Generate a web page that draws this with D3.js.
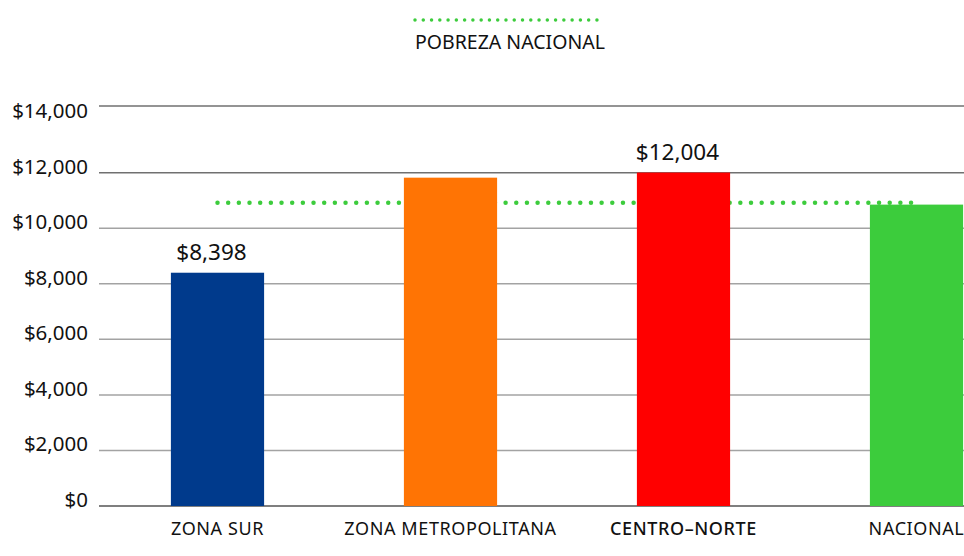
<!DOCTYPE html>
<html>
  <head>
    <meta charset="UTF-8" />
    <script src="https://d3js.org/d3.v7.min.js"></script>
    <style>
      body { margin: 0; background: #fff; }
      text { font-family: "Noto Sans", "DejaVu Sans", sans-serif; fill: #111; }
    </style>
  </head>
  <body>
    <div id="chart"></div>

    <script>
      // data
      var categories = ["ZONA SUR", "ZONA METROPOLITANA", "CENTRO–NORTE", "NACIONAL"];
      var values = [8398, 11820, 12004, 10850];
      var valueLabels = ["$8,398", "", "$12,004", ""];
      var barColors = ["#003a8c", "#ff7404", "#ff0000", "#3ccc3c"];
      var yTicks = [0, 2000, 4000, 6000, 8000, 10000, 12000, 14000];
      var povertyLine = 10920;
      var legendLabel = "POBREZA NACIONAL";

      var width = 964,
        height = 556;

      var svg = d3
        .select("#chart")
        .append("svg")
        .attr("width", width)
        .attr("height", height);

      var x = d3
        .scaleBand()
        .domain(categories)
        .range([101, 1033])
        .paddingInner(0.6)
        .paddingOuter(0.3);

      var y = d3.scaleLinear().domain([0, 14400]).range([506, 106]);

      var fmt = function (d) {
        return "$" + d3.format(",")(d);
      };

      // gridlines (top frame line sits at the top of the range)
      var gridVals = yTicks.filter(function (d) { return d < 14000; });
      svg
        .append("g")
        .selectAll("line")
        .data(gridVals)
        .enter()
        .append("line")
        .attr("x1", 99)
        .attr("x2", width)
        .attr("y1", function (d) { return y(d); })
        .attr("y2", function (d) { return y(d); })
        .attr("stroke", function (d) {
          return d === 0 ? "#555" : d >= 12000 ? "#707070" : "#a3a3a3";
        })
        .attr("stroke-width", 1.5);

      svg
        .append("line")
        .attr("x1", 99)
        .attr("x2", width)
        .attr("y1", y.range()[1])
        .attr("y2", y.range()[1])
        .attr("stroke", "#707070")
        .attr("stroke-width", 1.5);

      // y labels
      svg
        .append("g")
        .selectAll("text")
        .data(yTicks)
        .enter()
        .append("text")
        .attr("x", 88)
        .attr("y", function (d) { return y(d) + 1; })
        .attr("text-anchor", "end")
        .style("font-size", "20.5px")
        .text(fmt);

      // poverty line (behind bars)
      svg
        .append("line")
        .attr("x1", x(categories[0]) + x.bandwidth() / 2)
        .attr("x2", x(categories[categories.length - 1]) + x.bandwidth() / 2)
        .attr("y1", y(povertyLine))
        .attr("y2", y(povertyLine))
        .attr("stroke", "#3dcc3d")
        .attr("stroke-width", 4.5)
        .attr("stroke-linecap", "round")
        .attr("stroke-dasharray", "0 10.67");

      // bars
      svg
        .append("g")
        .selectAll("rect")
        .data(values)
        .enter()
        .append("rect")
        .attr("x", function (d, i) { return x(categories[i]); })
        .attr("width", x.bandwidth())
        .attr("y", function (d) { return y(d); })
        .attr("height", function (d) { return y(0) - y(d); })
        .attr("fill", function (d, i) { return barColors[i]; });

      // value labels
      svg
        .append("g")
        .selectAll("text")
        .data(values)
        .enter()
        .append("text")
        .attr("x", function (d, i) { return x(categories[i]) + x.bandwidth() / 2; })
        .attr("y", function (d) { return y(d) - 13; })
        .attr("dx", -6)
        .attr("text-anchor", "middle")
        .style("font-size", "22.5px")
        .text(function (d, i) { return valueLabels[i]; });

      // category labels
      svg
        .append("g")
        .selectAll("text")
        .data(categories)
        .enter()
        .append("text")
        .attr("x", function (d) { return x(d) + x.bandwidth() / 2; })
        .attr("y", 535)
        .attr("text-anchor", "middle")
        .style("font-size", "18px")
        .style("letter-spacing", "0.6px")
        .style("font-weight", function (d) { return d === "CENTRO–NORTE" ? 500 : 400; })
        .text(function (d) { return d; });

      // legend
      var legend = svg.append("g").attr("transform", "translate(415,0)");
      legend
        .append("line")
        .attr("x1", 0)
        .attr("x2", 186)
        .attr("y1", 20)
        .attr("y2", 20)
        .attr("stroke", "#3dcc3d")
        .attr("stroke-width", 3.5)
        .attr("stroke-linecap", "round")
        .attr("stroke-dasharray", "0 8.27");
      legend
        .append("text")
        .attr("x", 0)
        .attr("y", 49)
        .style("font-size", "19.5px")
        .text(legendLabel);
    </script>
  </body>
</html>
